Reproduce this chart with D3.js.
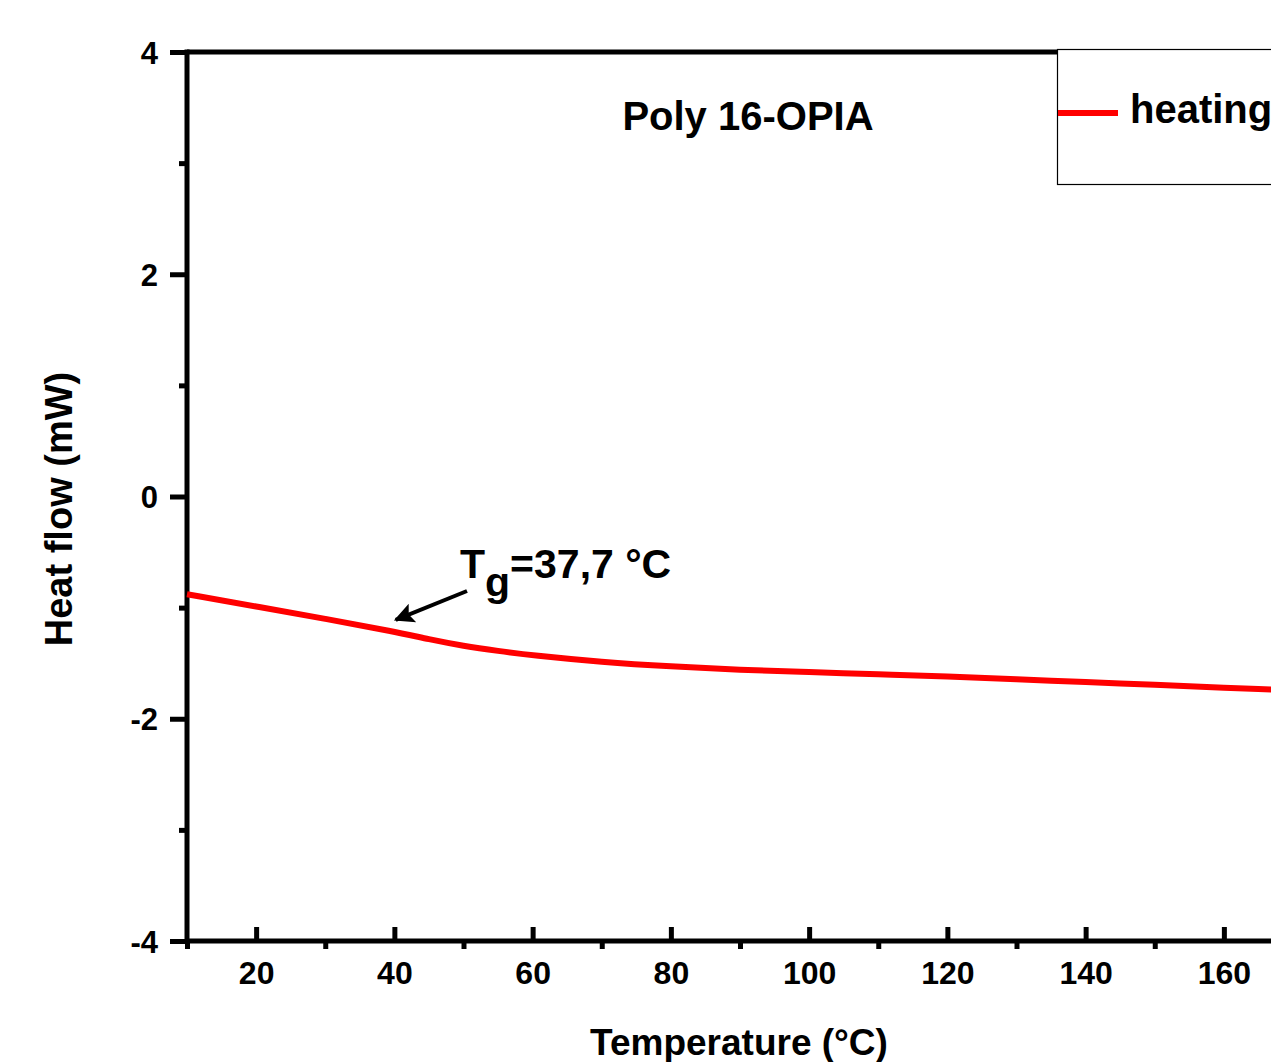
<!DOCTYPE html>
<html><head><meta charset="utf-8">
<script src="https://cdn.jsdelivr.net/npm/d3@7/dist/d3.min.js"></script>
<style>
html,body{margin:0;padding:0;background:#fff;overflow:hidden}
svg{display:block}
text{font-family:"Liberation Sans",Arial,sans-serif;font-weight:bold;fill:#000}
</style></head>
<body>
<script>
// Data
const temperature = [10, 20, 30, 40, 45, 50, 55, 60, 70, 80, 90, 100, 110, 120, 130, 140, 150, 160, 170, 180];
const heatFlow    = [-0.88, -0.99, -1.10, -1.215, -1.285, -1.345, -1.39, -1.43, -1.49, -1.53, -1.56, -1.58, -1.60, -1.62, -1.645, -1.67, -1.695, -1.72, -1.745, -1.77];
const xMajorTicks = [20, 40, 60, 80, 100, 120, 140, 160];
const xMinorTicks = [10, 30, 50, 70, 90, 110, 130, 150, 170];
const yMajorTicks = [-4, -2, 0, 2, 4];
const yMinorTicks = [-3, -1, 1, 3];
const seriesName = "heating";
const sampleName = "Poly 16-OPIA";
const tgLabel = {base: "T", sub: "g", rest: "=37,7 °C"};

const W = 1271, H = 1062;
const svg = d3.select("body").append("svg").attr("width", W).attr("height", H);

const x = d3.scaleLinear().domain([10, 180]).range([187, 187 + 170 * 6.9125]);
const y = d3.scaleLinear().domain([-4, 4]).range([941, 52]);
const fmt = d => String(d);

// x axis major ticks (inward, with labels)
const gxMaj = svg.append("g").attr("transform", `translate(0,${y(-4)})`)
  .call(d3.axisBottom(x).tickValues(xMajorTicks).tickSize(-14).tickPadding(33).tickFormat(fmt));
gxMaj.selectAll(".tick line").attr("stroke", "#000").attr("stroke-width", 5);
gxMaj.selectAll(".tick text").attr("font-size", 32).attr("dy", "0.3em");
gxMaj.select(".domain").remove();
// x axis minor ticks (outward)
const gxMin = svg.append("g").attr("transform", `translate(0,${y(-4)})`)
  .call(d3.axisBottom(x).tickValues(xMinorTicks).tickSize(8).tickFormat(""));
gxMin.selectAll(".tick line").attr("stroke", "#000").attr("stroke-width", 5);
gxMin.select(".domain").remove();

// y axis major ticks (outward, labels)
const gyMaj = svg.append("g").attr("transform", `translate(${x(10)},0)`)
  .call(d3.axisLeft(y).tickValues(yMajorTicks).tickSize(17).tickPadding(12).tickFormat(fmt));
gyMaj.selectAll(".tick line").attr("stroke", "#000").attr("stroke-width", 5);
gyMaj.selectAll(".tick text").attr("font-size", 31).attr("dy", "0.36em");
gyMaj.select(".domain").remove();
const gyMin = svg.append("g").attr("transform", `translate(${x(10)},0)`)
  .call(d3.axisLeft(y).tickValues(yMinorTicks).tickSize(8).tickFormat(""));
gyMin.selectAll(".tick line").attr("stroke", "#000").attr("stroke-width", 5);
gyMin.select(".domain").remove();

// frame lines
svg.append("line").attr("x1", x(10)).attr("x2", x(180)).attr("y1", y(-4)).attr("y2", y(-4))
  .attr("stroke", "#000").attr("stroke-width", 5);
svg.append("line").attr("x1", x(10)).attr("x2", x(10)).attr("y1", y(4) - 2.5).attr("y2", y(-4) + 2.5)
  .attr("stroke", "#000").attr("stroke-width", 5);
svg.append("line").attr("x1", x(10)).attr("x2", x(180)).attr("y1", y(4)).attr("y2", y(4))
  .attr("stroke", "#000").attr("stroke-width", 5);

// curve
const line = d3.line().x((d, i) => x(temperature[i])).y(d => y(d)).curve(d3.curveBasis);
svg.append("path").datum(heatFlow).attr("d", line)
  .attr("fill", "none").attr("stroke", "#ff0000").attr("stroke-width", 6);

// sample label
svg.append("text").attr("x", 748).attr("y", 130).attr("text-anchor", "middle")
  .attr("font-size", 40).text(sampleName);

// Tg annotation with arrow
const defs = svg.append("defs");
defs.append("marker").attr("id", "ah").attr("viewBox", "0 0 10 10").attr("refX", 9).attr("refY", 5)
  .attr("markerWidth", 7).attr("markerHeight", 5).attr("markerUnits", "strokeWidth").attr("orient", "auto")
  .append("path").attr("d", "M0,0 L10,5 L0,10 L2,5 Z").attr("fill", "#000");
svg.append("line").attr("x1", 467).attr("y1", 591).attr("x2", x(40.2)).attr("y2", y(-1.11))
  .attr("stroke", "#000").attr("stroke-width", 4).attr("marker-end", "url(#ah)");
const tg = svg.append("text").attr("x", 460).attr("y", 578).attr("font-size", 41);
tg.append("tspan").text(tgLabel.base);
tg.append("tspan").attr("dy", 18).text(tgLabel.sub);
tg.append("tspan").attr("dy", -18).text(tgLabel.rest);

// legend
svg.append("rect").attr("x", 1057.5).attr("y", 49.5).attr("width", 260).attr("height", 135)
  .attr("fill", "#fff").attr("stroke", "#000").attr("stroke-width", 1.2);
svg.append("line").attr("x1", 1058).attr("x2", 1118).attr("y1", 113).attr("y2", 113)
  .attr("stroke", "#ff0000").attr("stroke-width", 6);
svg.append("text").attr("x", 1130).attr("y", 123).attr("font-size", 40).text(seriesName);

// axis titles
svg.append("text").attr("x", 739).attr("y", 1055).attr("text-anchor", "middle")
  .attr("font-size", 37).text("Temperature (°C)");
svg.append("text").attr("transform", "translate(72,509) rotate(-90)").attr("text-anchor", "middle")
  .attr("font-size", 38).text("Heat flow (mW)");
</script>
</body></html>
